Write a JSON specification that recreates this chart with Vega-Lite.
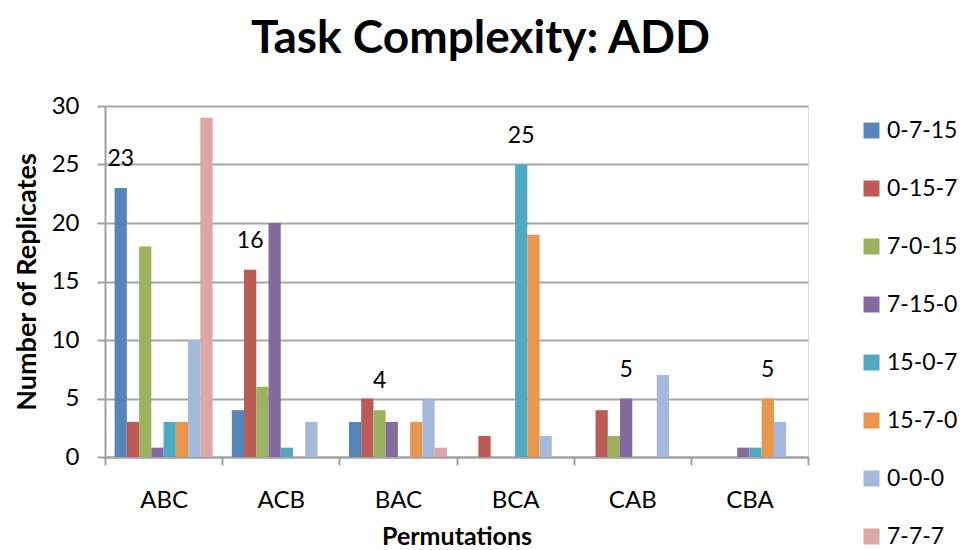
{
  "$schema": "https://vega.github.io/schema/vega-lite/v6.json",
  "autosize": "none",
  "width": 703,
  "height": 351,
  "padding": {"left": 105, "top": 106, "right": 156, "bottom": 93},
  "background": "white",
  "title": {
    "text": "Task Complexity: ADD",
    "font": "Lato",
    "fontSize": 46,
    "fontWeight": "bold",
    "color": "black",
    "anchor": "middle",
    "frame": "group",
    "dx": 24,
    "offset": 31
  },
  "data": {
    "values": [
      {"perm": "ABC", "series": "0-7-15", "count": 23, "label": true},
      {"perm": "ABC", "series": "0-15-7", "count": 3},
      {"perm": "ABC", "series": "7-0-15", "count": 18},
      {"perm": "ABC", "series": "7-15-0", "count": 0.8},
      {"perm": "ABC", "series": "15-0-7", "count": 3},
      {"perm": "ABC", "series": "15-7-0", "count": 3},
      {"perm": "ABC", "series": "0-0-0", "count": 10},
      {"perm": "ABC", "series": "7-7-7", "count": 29},
      {"perm": "ACB", "series": "0-7-15", "count": 4},
      {"perm": "ACB", "series": "0-15-7", "count": 16, "label": true},
      {"perm": "ACB", "series": "7-0-15", "count": 6},
      {"perm": "ACB", "series": "7-15-0", "count": 20},
      {"perm": "ACB", "series": "15-0-7", "count": 0.8},
      {"perm": "ACB", "series": "15-7-0", "count": 0},
      {"perm": "ACB", "series": "0-0-0", "count": 3},
      {"perm": "ACB", "series": "7-7-7", "count": 0},
      {"perm": "BAC", "series": "0-7-15", "count": 3},
      {"perm": "BAC", "series": "0-15-7", "count": 5},
      {"perm": "BAC", "series": "7-0-15", "count": 4, "label": true},
      {"perm": "BAC", "series": "7-15-0", "count": 3},
      {"perm": "BAC", "series": "15-0-7", "count": 0},
      {"perm": "BAC", "series": "15-7-0", "count": 3},
      {"perm": "BAC", "series": "0-0-0", "count": 5},
      {"perm": "BAC", "series": "7-7-7", "count": 0.8},
      {"perm": "BCA", "series": "0-7-15", "count": 0},
      {"perm": "BCA", "series": "0-15-7", "count": 1.8},
      {"perm": "BCA", "series": "7-0-15", "count": 0},
      {"perm": "BCA", "series": "7-15-0", "count": 0},
      {"perm": "BCA", "series": "15-0-7", "count": 25, "label": true},
      {"perm": "BCA", "series": "15-7-0", "count": 19},
      {"perm": "BCA", "series": "0-0-0", "count": 1.8},
      {"perm": "BCA", "series": "7-7-7", "count": 0},
      {"perm": "CAB", "series": "0-7-15", "count": 0},
      {"perm": "CAB", "series": "0-15-7", "count": 4},
      {"perm": "CAB", "series": "7-0-15", "count": 1.8},
      {"perm": "CAB", "series": "7-15-0", "count": 5, "label": true},
      {"perm": "CAB", "series": "15-0-7", "count": 0},
      {"perm": "CAB", "series": "15-7-0", "count": 0},
      {"perm": "CAB", "series": "0-0-0", "count": 7},
      {"perm": "CAB", "series": "7-7-7", "count": 0},
      {"perm": "CBA", "series": "0-7-15", "count": 0},
      {"perm": "CBA", "series": "0-15-7", "count": 0},
      {"perm": "CBA", "series": "7-0-15", "count": 0},
      {"perm": "CBA", "series": "7-15-0", "count": 0.8},
      {"perm": "CBA", "series": "15-0-7", "count": 0.8},
      {"perm": "CBA", "series": "15-7-0", "count": 5, "label": true},
      {"perm": "CBA", "series": "0-0-0", "count": 3},
      {"perm": "CBA", "series": "7-7-7", "count": 0}
    ]
  },
  "encoding": {
    "x": {
      "field": "perm",
      "type": "nominal",
      "sort": ["ABC", "ACB", "BAC", "BCA", "CAB", "CBA"],
      "scale": {"paddingInner": 0, "paddingOuter": 0},
      "axis": {
        "title": "Permutations",
        "titleFont": "Lato",
        "titleFontSize": 25,
        "titleFontWeight": "bold",
        "titleColor": "black",
        "titlePadding": 12,
        "labelFont": "Lato",
        "labelFontSize": 24,
        "labelColor": "black",
        "labelAngle": 0,
        "labelPadding": 23,
        "tickBand": "extent",
        "tickSize": 8,
        "tickColor": "#a0a0a0",
        "tickWidth": 2,
        "domainColor": "#a0a0a0",
        "domainWidth": 2,
        "grid": false
      }
    },
    "xOffset": {
      "field": "series",
      "type": "nominal",
      "sort": ["0-7-15", "0-15-7", "7-0-15", "7-15-0", "15-0-7", "15-7-0", "0-0-0", "7-7-7"],
      "scale": {"paddingInner": 0, "paddingOuter": 0.785}
    },
    "y": {
      "field": "count",
      "type": "quantitative",
      "scale": {"domain": [0, 30], "nice": false},
      "axis": {
        "title": "Number of Replicates",
        "titleFont": "Lato",
        "titleFontSize": 27,
        "titleFontWeight": "bold",
        "titleColor": "black",
        "titlePadding": 10,
        "values": [0, 5, 10, 15, 20, 25, 30],
        "labelFont": "Lato",
        "labelFontSize": 24,
        "labelColor": "black",
        "labelPadding": 18,
        "tickSize": 8,
        "tickColor": "#a0a0a0",
        "tickWidth": 2,
        "domainColor": "#a0a0a0",
        "domainWidth": 2,
        "gridColor": "#a6a6a6",
        "gridWidth": 2
      }
    }
  },
  "layer": [
    {
      "mark": {"type": "bar"},
      "encoding": {
        "color": {
          "field": "series",
          "type": "nominal",
          "sort": ["0-7-15", "0-15-7", "7-0-15", "7-15-0", "15-0-7", "15-7-0", "0-0-0", "7-7-7"],
          "scale": {
            "domain": ["0-7-15", "0-15-7", "7-0-15", "7-15-0", "15-0-7", "15-7-0", "0-0-0", "7-7-7"],
            "range": ["#5686b9", "#bb5b56", "#9db260", "#846b9f", "#4ea9c1", "#e6964d", "#a3b8da", "#dba6a3"]
          },
          "legend": {
            "title": null,
            "orient": "none",
            "legendX": 755,
            "legendY": 13,
            "symbolType": "square",
            "symbolSize": 256,
            "symbolStrokeWidth": 0,
            "labelFont": "Lato",
            "labelFontSize": 23,
            "labelColor": "black",
            "labelOffset": 4,
            "rowPadding": 34
          }
        }
      }
    },
    {
      "transform": [{"filter": "datum.label === true"}],
      "mark": {"type": "text", "font": "Lato", "fontSize": 23, "color": "black", "baseline": "middle", "dy": -29},
      "encoding": {
        "text": {"field": "count", "type": "quantitative"}
      }
    }
  ]
}
